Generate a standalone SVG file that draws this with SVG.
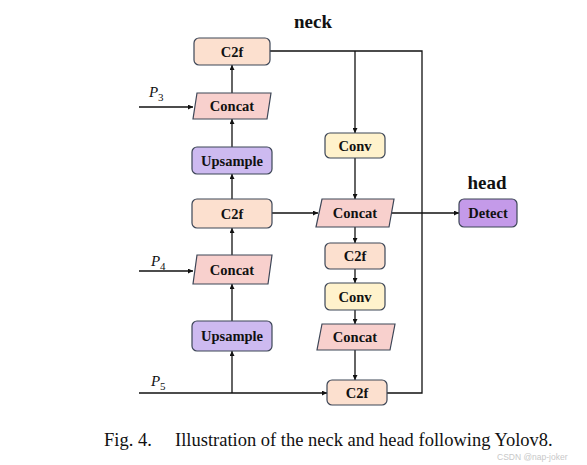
<svg xmlns="http://www.w3.org/2000/svg" width="587" height="465" viewBox="0 0 587 465">
<defs>
<style>
.box{stroke:#3d4657;stroke-width:1.2}
.c2f{fill:#fce0cf}
.cat{fill:#f8d0cd}
.up{fill:#cdbaf0}
.conv{fill:#fff2cc}
.det{fill:#c49ae9}
.lbl{font-family:"Liberation Serif","Times New Roman",serif;font-weight:bold;font-size:14.5px;fill:#111;text-anchor:middle}
.ttl{font-family:"Liberation Serif","Times New Roman",serif;font-weight:bold;font-size:19px;fill:#111;text-anchor:middle}
.pl{font-family:"Liberation Serif","Times New Roman",serif;font-style:italic;font-size:15px;fill:#111}
.sub{font-family:"Liberation Serif","Times New Roman",serif;font-size:11px;fill:#111}
.cap{font-family:"Liberation Serif","Times New Roman",serif;font-size:18.5px;fill:#111}
.ln{fill:none;stroke:#111;stroke-width:1.3}
.ar{marker-end:url(#ah)}
</style>
<marker id="ah" viewBox="0 0 8 8" refX="8" refY="4" markerWidth="5" markerHeight="5" orient="auto" markerUnits="userSpaceOnUse">
<path d="M0,0 L8,4 L0,8 z" fill="#111"/>
</marker>
</defs>
<rect width="587" height="465" fill="#fff"/>
<text class="ttl" x="313" y="28">neck</text>
<text class="ttl" x="487" y="189">head</text>

<g id="connectors">
<path class="ln ar" d="M139,107 H193"/>
<path class="ln ar" d="M139,271 H193"/>
<path class="ln ar" d="M139,393 H327"/>
<path class="ln ar" d="M232,393 V351"/>
<path class="ln ar" d="M232,321 V284"/>
<path class="ln ar" d="M232,255 V228"/>
<path class="ln ar" d="M232,199 V174"/>
<path class="ln ar" d="M232,147 V119"/>
<path class="ln ar" d="M232,93 V65"/>
<path class="ln" d="M270,51 H422 V393 H387"/>
<path class="ln ar" d="M355,51 V133"/>
<path class="ln ar" d="M355,158 V199"/>
<path class="ln ar" d="M272,213 H318"/>
<path class="ln ar" d="M391,213 H459"/>
<path class="ln ar" d="M355,227 V243"/>
<path class="ln ar" d="M355,269 V283"/>
<path class="ln ar" d="M355,310 V324"/>
<path class="ln ar" d="M355,350 V380"/>
</g>

<g id="p3"><text class="pl" x="149" y="97">P</text><text class="sub" x="158" y="101">3</text></g>
<g id="p4"><text class="pl" x="151" y="266">P</text><text class="sub" x="160" y="270">4</text></g>
<g id="p5"><text class="pl" x="151" y="386">P</text><text class="sub" x="160" y="390">5</text></g>

<g id="c2f_top"><rect class="box c2f" x="194" y="38" width="76" height="27" rx="5"/><text class="lbl" x="232" y="56.5">C2f</text></g>
<g id="concat_p3"><path class="box cat" d="M197,93 H271 L267,119 H193 Z"/><text class="lbl" x="232" y="111">Concat</text></g>
<g id="upsample1"><rect class="box up" x="192" y="147" width="80" height="27" rx="5"/><text class="lbl" x="232" y="165.5">Upsample</text></g>
<g id="c2f_mid"><rect class="box c2f" x="192" y="199" width="80" height="29" rx="5"/><text class="lbl" x="232" y="218.5">C2f</text></g>
<g id="concat_p4"><path class="box cat" d="M197,255 H272 L268,284 H193 Z"/><text class="lbl" x="232" y="274.5">Concat</text></g>
<g id="upsample2"><rect class="box up" x="192" y="321" width="80" height="30" rx="5"/><text class="lbl" x="232" y="341">Upsample</text></g>

<g id="conv1"><rect class="box conv" x="325" y="133" width="60" height="25" rx="5"/><text class="lbl" x="355" y="150.5">Conv</text></g>
<g id="concat_mid"><path class="box cat" d="M322,199 H394 L389,227 H316 Z"/><text class="lbl" x="355" y="218">Concat</text></g>
<g id="c2f_2"><rect class="box c2f" x="325" y="243" width="60" height="26" rx="5"/><text class="lbl" x="355" y="261">C2f</text></g>
<g id="conv2"><rect class="box conv" x="325" y="283" width="60" height="27" rx="5"/><text class="lbl" x="355" y="301.5">Conv</text></g>
<g id="concat_2"><path class="box cat" d="M322,324 H395 L390,350 H317 Z"/><text class="lbl" x="355" y="342">Concat</text></g>
<g id="c2f_bot"><rect class="box c2f" x="327" y="380" width="60" height="25" rx="5"/><text class="lbl" x="357" y="397.5">C2f</text></g>

<g id="detect"><rect class="box det" x="459" y="199" width="58" height="28" rx="5"/><text class="lbl" x="488" y="218">Detect</text></g>

<g id="caption">
<text class="cap" x="104" y="446">Fig. 4.</text>
<text class="cap" x="175" y="446">Illustration of the neck and head following Yolov8.</text>
<text x="497" y="460" font-family="Liberation Sans,Arial,sans-serif" font-size="8.5" fill="#c8c8c8">CSDN @nap-joker</text>
</g>
</svg>
